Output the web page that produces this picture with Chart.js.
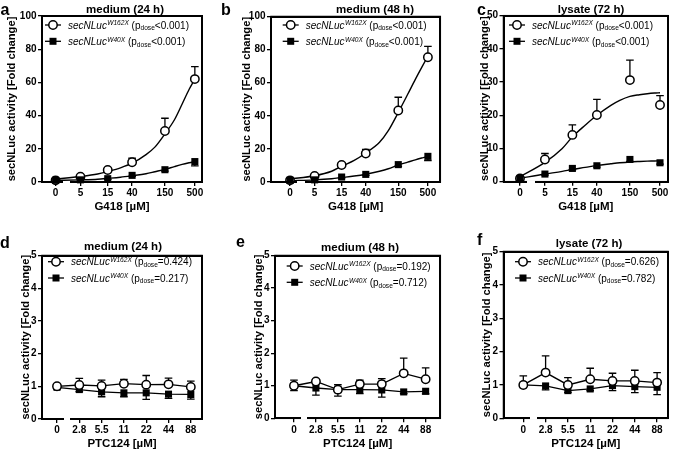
<!DOCTYPE html>
<html><head><meta charset="utf-8">
<script src="https://cdn.jsdelivr.net/npm/chart.js@4.4.0/dist/chart.umd.min.js"></script>
<style>
html,body{margin:0;padding:0;background:#fff;}
#wrap{position:relative;width:675px;height:451px;overflow:hidden;background:#fff;}
#wrap canvas{position:absolute;}
.frame{position:absolute;box-sizing:border-box;border:2px solid #000;pointer-events:none;}
.gap{position:absolute;background:#fff;pointer-events:none;}
</style></head>
<body><div id="wrap">
<canvas id="a"></canvas><canvas id="b"></canvas><canvas id="c"></canvas>
<canvas id="d"></canvas><canvas id="e"></canvas><canvas id="f"></canvas>
</div>
<script>
// ---------------- DATA ----------------
// Top row: G418 dose response
const g418Doses = [0, 5, 15, 40, 150, 500];
const g418TickLabels = ['0', '5', '15', '40', '150', '500'];
const fitDoses = [0, 5, 10, 15, 25, 40, 70, 100, 150, 220, 300, 400, 500];

const aW162X = [1.0, 3.2, 7.2, 11.9, 30.7, 62.0];
const aW162XSd = [0.3, 0.8, 1.0, 2.4, 7.7, 7.5];
const aW40X = [1.0, 1.3, 2.0, 4.0, 7.4, 12.3];
const aW40XSd = [0.2, 0.3, 0.4, 0.6, 0.9, 2.6];
const aW162XFit = [1.8, 3.3, 4.8, 6.3, 8.5, 11.3, 16.5, 21, 29, 37.5, 47, 56, 62];
const aW40XFit = [0.9, 1.3, 1.7, 2.2, 2.9, 3.8, 5.0, 6.2, 7.6, 9.3, 10.6, 11.6, 12.3];

const bW162X = [1.0, 3.6, 10.3, 17.2, 43.2, 75.4];
const bW162XSd = [0.3, 0.6, 1.2, 2.5, 8.0, 6.5];
const bW40X = [1.0, 1.3, 3.0, 4.6, 10.5, 15.5];
const bW40XSd = [0.2, 0.2, 0.5, 0.6, 1.0, 2.5];
const bW162XFit = [1.8, 3.8, 6.5, 9.5, 13, 17.5, 24, 31, 42, 53, 62, 70, 76];
const bW40XFit = [0.8, 1.3, 2.0, 2.7, 3.6, 4.7, 6.5, 8.0, 10.3, 12.0, 13.4, 14.6, 15.5];

const cW162X = [1.0, 6.7, 14.1, 20.1, 30.6, 23.1];
const cW162XSd = [0.3, 1.8, 3.0, 4.7, 6.0, 2.8];
const cW40X = [1.0, 2.3, 4.0, 4.8, 6.7, 5.7];
const cW40XSd = [0.1, 0.3, 0.4, 0.4, 0.6, 0.4];
const cW162XFit = [1.5, 5.8, 10.0, 13.5, 17.0, 20.0, 23.0, 24.5, 25.7, 26.2, 26.5, 26.7, 26.8];
const cW40XFit = [1.0, 2.3, 3.1, 3.7, 4.3, 4.9, 5.4, 5.7, 5.95, 6.1, 6.2, 6.25, 6.3];

// Bottom row: PTC124 dose response
const ptcTickLabels = ['0', '2.8', '5.5', '11', '22', '44', '88'];
const dW162X = [1.0, 1.04, 1.01, 1.08, 1.05, 1.06, 0.98];
const dW162XSd = [0.05, 0.2, 0.18, 0.13, 0.28, 0.19, 0.18];
const dW40X = [0.97, 0.9, 0.83, 0.8, 0.8, 0.76, 0.75];
const dW40XSd = [0.05, 0.06, 0.15, 0.12, 0.2, 0.13, 0.14];

const eW162X = [1.0, 1.13, 0.88, 1.05, 1.05, 1.38, 1.2];
const eW162XSd = [0.17, 0.05, 0.15, 0.12, 0.17, 0.47, 0.35];
const eW40X = [1.0, 0.93, 0.88, 0.88, 0.87, 0.81, 0.83];
const eW40XSd = [0.15, 0.22, 0.2, 0.12, 0.22, 0.05, 0.08];

const fW162X = [1.0, 1.37, 1.0, 1.17, 1.12, 1.12, 1.07];
const fW162XSd = [0.27, 0.5, 0.22, 0.33, 0.23, 0.32, 0.3];
const fW40X = [1.0, 0.97, 0.83, 0.88, 0.98, 0.95, 0.93];
const fW40XSd = [0.05, 0.12, 0.05, 0.05, 0.15, 0.18, 0.22];

const panelLetters = ['a', 'b', 'c', 'd', 'e', 'f'];
const panelTitles = ['medium (24 h)', 'medium (48 h)', 'lysate (72 h)', 'medium (24 h)', 'medium (48 h)', 'lysate (72 h)'];
const pW162X = ['<0.001', '<0.001', '<0.001', '=0.424', '=0.192', '=0.626'];
const pW40X = ['<0.001', '<0.001', '<0.001', '=0.217', '=0.712', '=0.782'];
const yAxisTitle = 'secNLuc activity [Fold change]';
const xAxisTitles = ['G418 [\u00B5M]', 'PTC124 [\u00B5M]'];

// ---------------- LAYOUT ----------------
const FONT = "'Liberation Sans', Arial, Helvetica, sans-serif";
Chart.defaults.font.family = FONT;
Chart.defaults.color = '#000';

const ZERO_POS = 0.265; // axis position used for dose 0 (segment before the axis break)
function g418X(d) { return d === 0 ? ZERO_POS : Math.log10(d); }

const L = {
  a: {box:[0,0,222,218],   area:[42,16,202,182],      xr:[0.027,2.824],  ymax:100, ystep:20, yTitleX:12,   xTitleY:206.7, title:[125,9.5], letter:[0.5,15], leg:[3,9]},
  b: {box:[222,0,224,218], area:[271,16.5,443,182],   xr:[-0.071,2.918], ymax:100, ystep:20, yTitleX:247,  xTitleY:206.7, title:[375,9.5], letter:[221,15], leg:[11.7,8.5]},
  c: {box:[446,0,229,218], area:[503.5,15.7,668,181.7], xr:[-0.021,2.838], ymax:50, ystep:10, yTitleX:485,  xTitleY:206.7, title:[591,9.5], letter:[477,15], leg:[5.5,9.3]},
  d: {box:[0,218,222,233], area:[42,255.5,202,419],   xr:[-0.673,6.502], ymax:5, ystep:1, yTitleX:26, xTitleY:444, title:[123,246.7], letter:[0,248], leg:[6,6.2]},
  e: {box:[222,218,224,233], area:[275,255.5,443,418.3], xr:[-0.865,6.668], ymax:5, ystep:1, yTitleX:258.5, xTitleY:444, title:[360,248], letter:[236,247], leg:[11.7,10.5]},
  f: {box:[446,218,229,233], area:[503.5,251.5,668,418.3], xr:[-0.888,6.489], ymax:5, ystep:1, yTitleX:487, xTitleY:444, title:[589,244], letter:[477,245], leg:[11.5,10.2]}
};

const TICK_FONT = {family: FONT, size: 10, weight: 'bold'};
const YT_FONT = {family: FONT, size: 11.2, weight: 'bold', lineHeight: 1.2};
const XT_FONT = {family: FONT, size: 11.5, weight: 'bold', lineHeight: 1.2};

function drawLegendRow(ctx, x0, y, isCircle, sup, p) {
  ctx.save();
  ctx.strokeStyle = '#000'; ctx.lineWidth = 1.3;
  ctx.beginPath(); ctx.moveTo(x0, y); ctx.lineTo(x0 + 16, y); ctx.stroke();
  if (isCircle) {
    ctx.beginPath(); ctx.arc(x0 + 8, y, 4.2, 0, Math.PI * 2);
    ctx.fillStyle = '#fff'; ctx.fill(); ctx.lineWidth = 1.5; ctx.stroke();
  } else {
    ctx.fillStyle = '#000'; ctx.fillRect(x0 + 8 - 3.5, y - 3.5, 7, 7);
  }
  ctx.fillStyle = '#000'; ctx.textAlign = 'left'; ctx.textBaseline = 'alphabetic';
  const base = y + 3.6;
  let x = x0 + 23;
  ctx.font = 'italic 10px ' + FONT; ctx.fillText('secNLuc', x, base); x += ctx.measureText('secNLuc').width + 0.3;
  ctx.font = 'italic 6.6px ' + FONT; ctx.fillText(sup, x, base - 3.2); x += ctx.measureText(sup).width;
  ctx.font = '10px ' + FONT; ctx.fillText(' (p', x, base); x += ctx.measureText(' (p').width;
  ctx.font = '6.6px ' + FONT; ctx.fillText('dose', x, base + 1.6); x += ctx.measureText('dose').width;
  ctx.font = '10px ' + FONT; ctx.fillText(p + ')', x, base);
  ctx.restore();
}

const deco = {
  id: 'deco',
  beforeDatasetsDraw(chart) {
    const ctx = chart.ctx, xs = chart.scales.x, ys = chart.scales.y;
    const P = L[chart.canvas.id], ca = chart.chartArea;
    // frame box drawn on the canvas as well
    ctx.save();
    ctx.strokeStyle = '#000'; ctx.lineWidth = 1.5;
    ctx.strokeRect(ca.left, ca.top, ca.right - ca.left, ca.bottom - ca.top);
    const g0 = xs.getPixelForValue(P.gap[0]), g1 = xs.getPixelForValue(P.gap[1]);
    ctx.fillStyle = '#fff';
    ctx.fillRect(g0, ca.bottom - 1, g1 - g0, 2);
    ctx.restore();
    // error bars
    ctx.save();
    ctx.strokeStyle = '#000'; ctx.lineWidth = 1.3; ctx.lineCap = 'butt';
    chart.data.datasets.forEach(ds => {
      if (!ds.err) return;
      ds.data.forEach((pt, i) => {
        const e = ds.err[i]; if (!e) return;
        const px = xs.getPixelForValue(pt.x);
        const py = ys.getPixelForValue(pt.y);
        const pe = ys.getPixelForValue(pt.y + ds.errDir * e);
        ctx.beginPath();
        ctx.moveTo(px, py); ctx.lineTo(px, pe);
        ctx.moveTo(px - 3.8, pe); ctx.lineTo(px + 3.8, pe);
        ctx.stroke();
      });
    });
    ctx.restore();
  },
  afterDraw(chart) {
    const id = chart.canvas.id, P = L[id], k = panelLetters.indexOf(id);
    const ctx = chart.ctx, bx = P.box[0], by = P.box[1];
    const ca = chart.chartArea;
    ctx.save();
    ctx.fillStyle = '#000';
    ctx.font = 'bold 11.5px ' + FONT; ctx.textAlign = 'center'; ctx.textBaseline = 'middle';
    ctx.fillText(panelTitles[k], P.title[0] - bx, P.title[1] - by);
    ctx.font = 'bold 16px ' + FONT; ctx.textAlign = 'left'; ctx.textBaseline = 'alphabetic';
    ctx.fillText(panelLetters[k], P.letter[0] - bx, P.letter[1] - by);
    ctx.restore();
    drawLegendRow(ctx, ca.left + P.leg[0], ca.top + P.leg[1], true, 'W162X', pW162X[k]);
    drawLegendRow(ctx, ca.left + P.leg[0], ca.top + P.leg[1] + 16.3, false, 'W40X', pW40X[k]);
  }
};

function topDatasets(w162, w162sd, w40, w40sd, w162fit, w40fit) {
  const pts = (arr) => g418Doses.map((d, i) => ({x: g418X(d), y: arr[i]}));
  const fit = (arr) => fitDoses.map((d, i) => ({x: g418X(d), y: arr[i]}));
  return [
    {data: pts(w40), err: w40sd, errDir: -1, showLine: false, pointStyle: 'rect', pointRadius: 5,
     pointBackgroundColor: '#000', pointBorderColor: '#000', pointBorderWidth: 0, clip: false},
    {data: pts(w162), err: w162sd, errDir: 1, showLine: false, pointStyle: 'circle', pointRadius: 4.2,
     pointBackgroundColor: '#fff', pointBorderColor: '#000', pointBorderWidth: 1.5, clip: false},
    {data: fit(w162fit), showLine: true, pointRadius: 0, borderColor: '#000', borderWidth: 1.4,
     cubicInterpolationMode: 'monotone', fill: false, clip: false},
    {data: fit(w40fit), showLine: true, pointRadius: 0, borderColor: '#000', borderWidth: 1.4,
     cubicInterpolationMode: 'monotone', fill: false, clip: false}
  ];
}

function bottomDatasets(w162, w162sd, w40, w40sd) {
  return [
    {data: w162.map((v, i) => ({x: i, y: v})), err: w162sd, errDir: 1, showLine: true,
     borderColor: '#000', borderWidth: 1.3, pointStyle: 'circle', pointRadius: 4.2,
     pointBackgroundColor: '#fff', pointBorderColor: '#000', pointBorderWidth: 1.5, clip: false},
    {data: w40.map((v, i) => ({x: i, y: v})), err: w40sd, errDir: -1, showLine: true,
     borderColor: '#000', borderWidth: 1.3, pointStyle: 'rect', pointRadius: 5,
     pointBackgroundColor: '#000', pointBorderColor: '#000', pointBorderWidth: 0, clip: false}
  ];
}

// plot frame (box) with a break in the x axis between dose 0 and the first dose
function addFrame(id, chart) {
  const P = L[id], ca = chart.chartArea, xs = chart.scales.x;
  const wrap = document.getElementById('wrap');
  const bx = P.box[0], by = P.box[1];
  const fr = document.createElement('div');
  fr.className = 'frame';
  fr.style.left = (bx + ca.left - 1) + 'px';
  fr.style.top = (by + ca.top - 1) + 'px';
  fr.style.width = (ca.right - ca.left + 2) + 'px';
  fr.style.height = (ca.bottom - ca.top + 2) + 'px';
  wrap.appendChild(fr);
  const g0 = xs.getPixelForValue(P.gap[0]), g1 = xs.getPixelForValue(P.gap[1]);
  const gp = document.createElement('div');
  gp.className = 'gap';
  gp.style.left = (bx + g0) + 'px';
  gp.style.top = (by + ca.bottom - 1) + 'px';
  gp.style.width = (g1 - g0) + 'px';
  gp.style.height = '2px';
  wrap.appendChild(gp);
}

function makeChart(id, datasets, tickVals, tickLabels, xTitle) {
  const P = L[id];
  const [bx, by, bw, bh] = P.box;
  const [AL, AT, AR, AB] = P.area;
  const cv = document.getElementById(id);
  cv.width = bw; cv.height = bh;
  cv.style.left = bx + 'px'; cv.style.top = by + 'px';
  cv.style.width = bw + 'px'; cv.style.height = bh + 'px';
  const ytLH = YT_FONT.size * YT_FONT.lineHeight;
  const xtLH = XT_FONT.size * XT_FONT.lineHeight;
  const padLeft = P.yTitleX - bx - ytLH / 2;
  const yWidth = AL - bx - padLeft;
  const xBottomAbs = P.xTitleY + xtLH / 2;
  const padBottom = by + bh - xBottomAbs;
  const xHeight = xBottomAbs - AB;
  const first = tickVals[0], second = tickVals[1];
  P.gap = [first + 0.3 * (second - first), first + 0.6 * (second - first)];
  const gridOpts = {display: true, drawOnChartArea: false, drawTicks: true, tickLength: 4, color: '#000', lineWidth: 1.3};
  const chart = new Chart(cv, {
    type: 'scatter',
    data: {datasets},
    options: {
      responsive: false, animation: false, devicePixelRatio: 1,
      layout: {padding: {left: padLeft, top: AT - by, right: bx + bw - AR, bottom: padBottom}},
      plugins: {legend: {display: false}, tooltip: {enabled: false}, title: {display: false}},
      scales: {
        x: {
          type: 'linear', min: P.xr[0], max: P.xr[1],
          afterBuildTicks: s => { s.ticks = tickVals.map(v => ({value: v})); },
          afterFit: s => { s.height = xHeight; },
          ticks: {callback: (v, i) => tickLabels[i], font: TICK_FONT, color: '#000', padding: 1.5,
                  maxRotation: 0, minRotation: 0, autoSkip: false},
          grid: gridOpts, border: {display: false},
          title: {display: true, text: xTitle, font: XT_FONT, color: '#000', padding: 0}
        },
        y: {
          type: 'linear', min: 0, max: P.ymax,
          afterFit: s => { s.width = yWidth; },
          ticks: {stepSize: P.ystep, font: TICK_FONT, color: '#000', padding: 1.5},
          grid: gridOpts, border: {display: false},
          title: {display: true, text: yAxisTitle, font: YT_FONT, color: '#000', padding: 0}
        }
      }
    },
    plugins: [deco]
  });
  addFrame(id, chart);
  return chart;
}

const g418Ticks = g418Doses.map(g418X);
const ptcTicks = ptcTickLabels.map((t, i) => i);

makeChart('a', topDatasets(aW162X, aW162XSd, aW40X, aW40XSd, aW162XFit, aW40XFit), g418Ticks, g418TickLabels, xAxisTitles[0]);
makeChart('b', topDatasets(bW162X, bW162XSd, bW40X, bW40XSd, bW162XFit, bW40XFit), g418Ticks, g418TickLabels, xAxisTitles[0]);
makeChart('c', topDatasets(cW162X, cW162XSd, cW40X, cW40XSd, cW162XFit, cW40XFit), g418Ticks, g418TickLabels, xAxisTitles[0]);
makeChart('d', bottomDatasets(dW162X, dW162XSd, dW40X, dW40XSd), ptcTicks, ptcTickLabels, xAxisTitles[1]);
makeChart('e', bottomDatasets(eW162X, eW162XSd, eW40X, eW40XSd), ptcTicks, ptcTickLabels, xAxisTitles[1]);
makeChart('f', bottomDatasets(fW162X, fW162XSd, fW40X, fW40XSd), ptcTicks, ptcTickLabels, xAxisTitles[1]);
</script>
</body></html>
